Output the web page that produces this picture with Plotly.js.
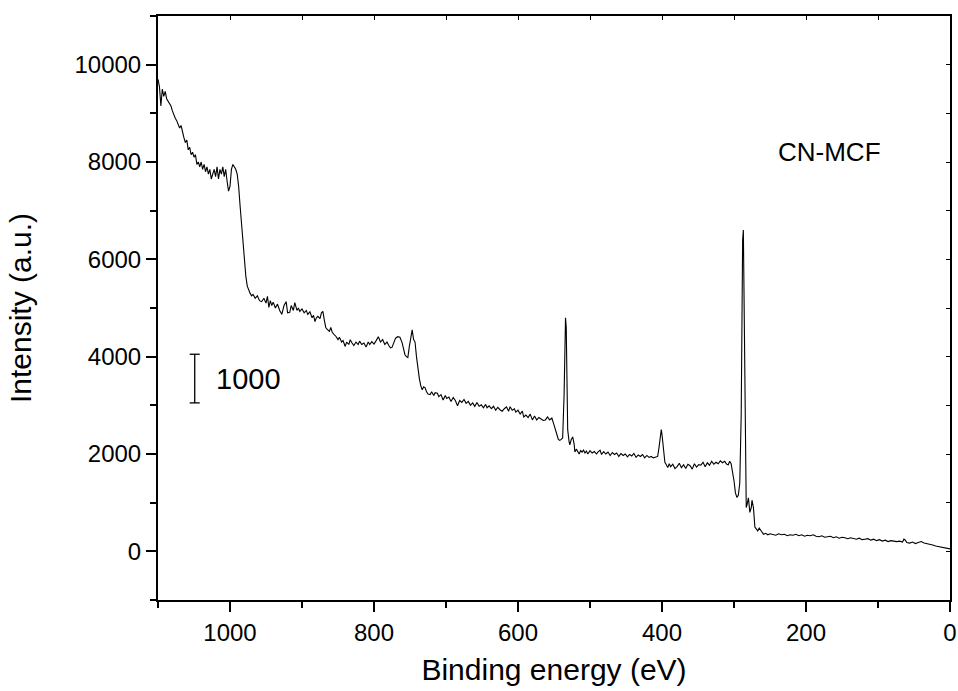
<!DOCTYPE html>
<html>
<head>
<meta charset="utf-8">
<script src="https://cdn.plot.ly/plotly-3.0.1.min.js"></script>
<style>html,body{margin:0;padding:0;background:#fff;}#chart{width:958px;height:691px;}</style>
</head>
<body>
<div id="chart"></div>
<script>
// Binding energy (eV) and intensity (a.u.)
const energy = [
1100,1098,1096,1094,1092,1090,1088,1086,1084,1082,1080,1078,1076,1074,1072,1070,1068,1066,1064,1062,1060,1058,1056,1054,1052,1050,1048,1046,1044,1042,1040,1038,1036,1034,1032,1030,1028,1026,1024,1022,1020,1018,1016,1014,1012,1010,1008,1006,1004,1002,1000,998,996,994,992,990,988,986,984,982,980,978,976,974,972,970,
968,965,962,959,956,953,950,948,946,944,942,940,937,934,931,928,925,922,920,917,915,912,910,907,905,903,900,897,894,892,889,886,884,882,880,878,875,873,871,869,867,865,862,860,858,855,853,850,848,845,843,840,838,835,833,831,828,825,822,820,817,814,811,808,806,803,800,797,794,791,788,785,782,779,777,775,772,770,767,764,761,759,757,755,753,751,749,747,745,743,741,739,737,735,733,731,729,727,725,722,720,717,715,712,710,707,704,701,699,696,693,690,687,684,681,678,675,672,669,666,663,660,657,654,651,648,645,643,640,637,634,631,628,625,622,619,616,613,611,608,605,603,600,597,594,592,589,586,583,580,577,574,571,568,565,562,559,556,553,550,548,546,544,542,540,538,536,535,534,533,532,531,529,528,526,524,522,521,519,517,515,513,511,509,507,505,503,500,497,494,491,489,486,484,481,478,475,472,469,466,463,460,457,454,451,448,445,442,439,436,433,430,427,424,421,418,415,412,409,406,404,402,401,400,398,396,394,392,390,388,385,382,379,376,373,370,367,364,361,358,355,352,349,346,343,340,337,334,331,328,325,322,319,316,313,310,308,306,304,302,300,298,296,294,292,290,289,288,287,286,285,284,283,282,280,278,276,275,273,271,269,267,265,262,259,256,253,250,246,242,238,234,230,226,222,218,214,210,206,202,198,194,190,186,182,178,174,170,166,162,158,154,150,146,142,138,134,130,126,122,118,114,110,106,102,98,94,90,86,82,78,74,70,66,64,62,60,56,52,48,44,40,36,32,28,24,20,16,12,8,4,0
];
const intensity = [
9700,9550,9150,9500,9350,9450,9300,9250,9200,9150,9050,8950,8900,8850,8750,8700,8750,8600,8500,8400,8450,8250,8300,8150,8200,8100,8150,7950,8000,7900,8000,7850,7950,7800,7900,7750,7850,7650,7750,7850,7700,7900,7650,7850,7750,7900,7700,7850,7600,7400,7500,7850,7950,7900,7850,7750,7500,7100,6700,6300,5900,5650,5450,5350,5300,5250,
5280,5200,5250,5150,5130,5200,5100,5240,5010,5150,5050,5120,5000,5080,4950,4870,5050,5130,4900,4910,5050,4950,5110,4950,5000,4930,4980,4900,4950,4870,4920,4800,4850,4720,4800,4830,4780,4900,4930,4750,4600,4560,4520,4600,4500,4450,4420,4350,4400,4300,4330,4210,4300,4250,4350,4290,4230,4300,4250,4320,4250,4280,4200,4300,4250,4310,4260,4330,4410,4300,4350,4250,4300,4220,4180,4190,4300,4380,4410,4400,4290,4150,4040,4000,3980,4200,4400,4550,4350,4300,4000,3730,3550,3400,3320,3380,3360,3280,3230,3220,3280,3200,3260,3250,3180,3220,3110,3200,3140,3170,3080,3160,3100,2990,3100,3060,3120,3040,3080,3000,3050,2980,3060,2980,3010,2950,3020,2950,2990,2930,2980,2900,2960,2910,2880,2930,2970,2880,2970,2900,2930,2860,2900,2820,2880,2760,2800,2750,2820,2700,2780,2700,2750,2720,2690,2700,2760,2700,2740,2600,2520,2400,2300,2280,2300,2330,3200,4700,4800,4600,3300,2500,2250,2190,2300,2350,2200,2040,2100,2060,2000,2070,2040,2080,2020,2060,2000,2070,2020,2050,2000,2040,2080,1990,2050,2000,2040,1970,2030,1990,2020,1950,2010,1970,2000,1940,1990,1960,2010,1930,1980,1950,1990,1920,1970,1930,1950,1920,1930,1950,2150,2450,2500,2400,2050,1830,1780,1720,1800,1740,1790,1700,1740,1810,1720,1780,1700,1790,1760,1690,1800,1730,1780,1770,1830,1740,1820,1770,1850,1790,1830,1800,1860,1820,1850,1790,1780,1850,1800,1650,1450,1200,1110,1150,1400,2800,4800,6400,6600,5000,2800,1300,900,950,1100,800,900,1050,900,500,450,420,480,400,350,370,340,360,350,330,360,340,350,320,340,330,350,320,340,310,330,320,340,310,300,320,290,300,310,280,300,270,290,280,260,280,260,250,270,240,250,260,230,250,220,240,210,230,200,220,210,200,210,190,250,230,180,170,190,160,180,200,170,160,140,130,110,100,90,70,60,50,40
];

const xTickVals = [1000, 800, 600, 400, 200, 0];
const yTickVals = [0, 2000, 4000, 6000, 8000, 10000];
const sampleLabel = 'CN-MCF';
const scaleLabel = '1000';
const scaleBar = [3050, 4050];
const scaleBarX = 1049;

const FONT = 'Liberation Sans, Arial, Helvetica, sans-serif';

const traces = [
  {x: energy, y: intensity, type: 'scatter', mode: 'lines',
   line: {color: '#000', width: 1.1}, hoverinfo: 'skip', showlegend: false},
  {x: [], y: [], xaxis: 'x2', yaxis: 'y2', type: 'scatter', mode: 'none', showlegend: false, hoverinfo: 'skip'}
];

const layout = {
  width: 958, height: 691,
  margin: {l: 158, r: 8, t: 16, b: 91},
  paper_bgcolor: '#fff', plot_bgcolor: '#fff',
  font: {family: FONT, color: '#000'},
  showlegend: false,
  xaxis: {
    range: [1100, 0], autorange: false,
    tickmode: 'array', tickvals: xTickVals, ticktext: xTickVals.map(String),
    ticks: 'outside', ticklen: 10, tickwidth: 2, tickcolor: '#000',
    minor: {tickmode: 'array', tickvals: [1100, 900, 700, 500, 300, 100], ticks: 'outside', ticklen: 6, tickwidth: 2, tickcolor: '#000', showgrid: false},
    showline: true, linewidth: 2, linecolor: '#000',
    showgrid: false, zeroline: false,
    tickfont: {size: 24, family: FONT},
    title: {text: 'Binding energy (eV)', font: {size: 30, family: FONT}, standoff: 14}
  },
  yaxis: {
    range: [-1000, 11000], autorange: false,
    tickmode: 'array', tickvals: yTickVals, ticktext: yTickVals.map(String),
    ticks: 'outside', ticklen: 10, tickwidth: 2, tickcolor: '#000',
    minor: {tickmode: 'array', tickvals: [-1000, 1000, 3000, 5000, 7000, 9000, 11000], ticks: 'outside', ticklen: 6, tickwidth: 2, tickcolor: '#000', showgrid: false},
    showline: true, linewidth: 2, linecolor: '#000',
    showgrid: false, zeroline: false,
    tickfont: {size: 24, family: FONT},
    title: {text: 'Intensity (a.u.)', font: {size: 30, family: FONT}, standoff: 34}
  },
  xaxis2: {
    overlaying: 'x', side: 'top', range: [1100, 0], autorange: false,
    tickmode: 'linear', tick0: 0, dtick: 100,
    ticks: 'inside', ticklen: 4, tickwidth: 1, tickcolor: '#000',
    showticklabels: false, showline: true, linewidth: 2, linecolor: '#000',
    showgrid: false, zeroline: false
  },
  yaxis2: {
    overlaying: 'y', side: 'right', range: [-1000, 11000], autorange: false,
    tickmode: 'linear', tick0: 0, dtick: 1000,
    ticks: 'inside', ticklen: 4, tickwidth: 1, tickcolor: '#000',
    showticklabels: false, showline: true, linewidth: 2, linecolor: '#000',
    showgrid: false, zeroline: false
  },
  shapes: [
    {type: 'line', xref: 'x', yref: 'y', x0: scaleBarX, x1: scaleBarX, y0: scaleBar[0], y1: scaleBar[1], line: {color: '#000', width: 1.3}},
    {type: 'line', xref: 'x', yref: 'y', x0: scaleBarX + 7, x1: scaleBarX - 7, y0: scaleBar[0], y1: scaleBar[0], line: {color: '#000', width: 1.3}},
    {type: 'line', xref: 'x', yref: 'y', x0: scaleBarX + 7, x1: scaleBarX - 7, y0: scaleBar[1], y1: scaleBar[1], line: {color: '#000', width: 1.3}}
  ],
  annotations: [
    {x: 1022, y: (scaleBar[0] + scaleBar[1]) / 2, xref: 'x', yref: 'y', text: scaleLabel, showarrow: false,
     xanchor: 'left', yanchor: 'middle', font: {size: 29, family: FONT, color: '#000'}},
    {x: 168, y: 8200, xref: 'x', yref: 'y', text: sampleLabel, showarrow: false,
     xanchor: 'center', yanchor: 'middle', font: {size: 26, family: FONT, color: '#000'}}
  ]
};

Plotly.newPlot('chart', traces, layout, {staticPlot: true, displayModeBar: false});
</script>
</body>
</html>
